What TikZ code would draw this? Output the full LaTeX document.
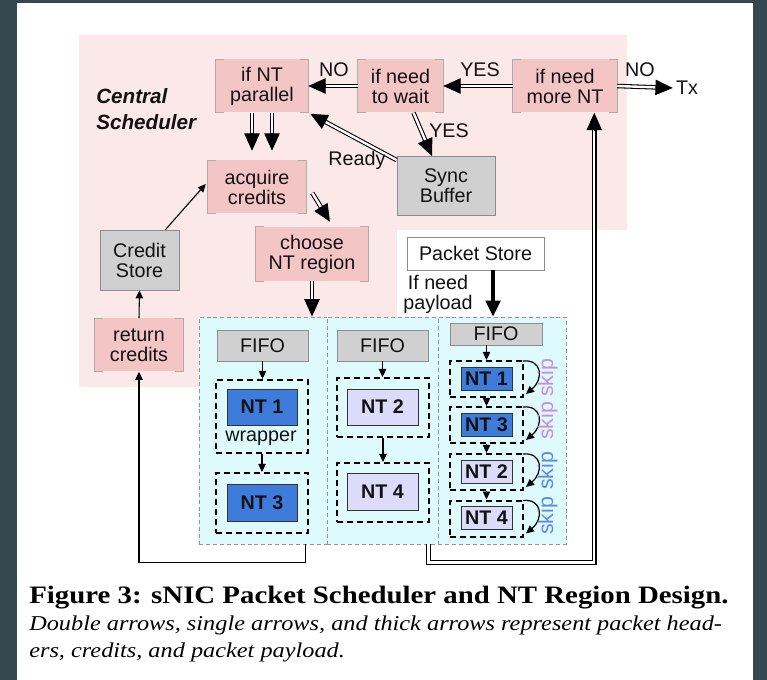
\documentclass[tikz,border=0pt]{standalone}
\usepackage{fontspec}
\setmainfont{Liberation Sans}
\newfontfamily\capfont[FakeStretch=1.15]{Liberation Serif}
\usetikzlibrary{arrows.meta,calc}

\definecolor{framebg}{RGB}{55,71,79}
\definecolor{schedbg}{RGB}{251,232,232}
\definecolor{pinkbox}{RGB}{244,197,197}
\definecolor{bracketgray}{RGB}{172,172,172}
\definecolor{grayfill}{RGB}{208,208,208}
\definecolor{grayline}{RGB}{140,140,140}
\definecolor{regionfill}{RGB}{222,250,252}
\definecolor{regionline}{RGB}{145,150,155}
\definecolor{ntblue}{RGB}{62,124,220}
\definecolor{ntlav}{RGB}{221,219,250}
\definecolor{skipviolet}{RGB}{200,140,225}
\definecolor{skipblue}{RGB}{90,140,228}

\tikzset{
  sz/.style 2 args={minimum width=#1*0.75pt, minimum height=#2*0.75pt},
  lbl/.style={font=\fontsize{14.8}{15}\selectfont, inner sep=0pt, align=center, text=black!93},
  decision/.style={lbl, fill=pinkbox},
  graybox/.style={lbl, fill=grayfill, draw=grayline, line width=0.6pt},
  region/.style={fill=regionfill, draw=regionline, dash pattern=on 3pt off 2.2pt, line width=0.7pt, inner sep=0pt},
  wrapbox/.style={draw=black, line width=1.5pt, dash pattern=on 4.5pt off 3pt, inner sep=0pt},
  ntbox/.style={lbl, font=\fontsize{14.8}{15}\selectfont\bfseries, draw=black!80, line width=0.6pt},
  dblline/.style={double=white, double distance=1.8pt, line width=0.8pt, shorten >=11pt},
  dblhead/.style={line width=0.8pt, -{Triangle[length=13pt,width=11.5pt]}},
  sgl/.style={line width=0.8pt, -{Triangle[length=6pt,width=5.5pt]}},
  fat/.style={line width=2.6pt, -{Triangle[length=12pt,width=11pt]}},
  skiparrow/.style={line width=0.9pt, -{Triangle[length=6pt,width=5.5pt]}},
  skiplbl/.style={lbl, font=\fontsize{16}{16}\selectfont, rotate=90},
}

% gray corner brackets on the pink decision boxes
\newcommand\brackets[1]{%
  \draw[bracketgray, line width=0.8pt] ($(#1.north west)+(8,0)$) -- (#1.north west) -- (#1.south west) -- ++(8,0);
  \draw[bracketgray, line width=0.8pt] ($(#1.north east)+(-8,0)$) -- (#1.north east) -- (#1.south east) -- ++(-8,0);
}

% double header arrow between two named coordinates, with a solid head
\newcommand\dblto[2]{%
  \draw[dblline] (#1) -- (#2);
  \draw[dblhead] ($(#2)!13pt!(#1)$) -- (#2);
}

% curved skip arrow along the right side of a wrapper
\newcommand\skiparc[1]{%
  \draw[skiparrow] ($(#1.north east)+(-1,1)$) .. controls ($(#1.north east)+(18,-1)$) and ($(#1.south east)+(20,-19)$) .. ($(#1.south east)+(2,-4)$);
}

\begin{document}
\begin{tikzpicture}[x=0.75pt, y=-0.75pt]
\useasboundingbox (0,0) rectangle (767,680);
\fill[framebg] (0,0) rectangle (767,680);
\fill[white] (17,3) rectangle (753,680);

% scheduler background
\fill[schedbg] (79,35) -- (627,35) -- (627,230) -- (397,230) -- (397,387) -- (79,387) -- cycle;
\node[lbl, font=\fontsize{15.5}{19}\selectfont\bfseries\itshape, align=left, anchor=west] (cs) at (96,109) {Central\\Scheduler};

% scheduler boxes
\node[decision, sz={92}{53}] (ifpar) at (262,86) {if NT\\parallel};
\node[decision, sz={85}{53}] (ifwait) at (400.5,86) {if need\\to wait};
\node[decision, sz={104}{53}] (ifmore) at (565,86) {if need\\more NT};
\node[lbl] (tx) at (687,88) {Tx};
\node[graybox, sz={98}{59}] (sync) at (446,186) {Sync\\Buffer};
\node[decision, sz={98}{53}] (acq) at (257,187) {acquire\\credits};
\node[decision, sz={112}{54}] (choose) at (312,254) {choose\\NT region};
\node[graybox, sz={79}{60}] (credit) at (139.5,260) {Credit\\Store};
\node[decision, sz={88}{53}] (ret) at (139,345) {return\\credits};
\brackets{ifpar}
\brackets{ifwait}
\brackets{ifmore}
\brackets{acq}
\brackets{choose}
\brackets{ret}

\node[lbl, fill=white, draw=grayline, line width=0.6pt, sz={137}{33}] (pstore) at (475.5,253.5) {Packet Store};
\node[lbl] (payload) at (438,294) {If need\\payload};

% NT regions
\node[region, sz={128}{227}] (r1) at (263,430.5) {};
\node[region, sz={111}{227}] (r2) at (382.5,430.5) {};
\node[region, sz={128}{227}] (r3) at (502,430.5) {};

\node[graybox, sz={91}{31}] (f1) at (262.5,345.5) {FIFO};
\node[graybox, sz={91}{31}] (f2) at (382.5,345.5) {FIFO};
\node[graybox, sz={92}{22}] (f3) at (496,334) {FIFO};

% region 1
\node[wrapbox, sz={92}{73}] (w1) at (262,416.5) {};
\node[ntbox, fill=ntblue, sz={70}{36}] (n1) at (262,407) {NT 1};
\node[lbl] (wraptxt) at (261,438) {wrapper};
\node[wrapbox, sz={92}{60}] (w3) at (262,503) {};
\node[ntbox, fill=ntblue, sz={70}{37}] (n3) at (262,502.5) {NT 3};

% region 2
\node[wrapbox, sz={92}{59}] (w2) at (383,407.5) {};
\node[ntbox, fill=ntlav, sz={71}{36}] (n2) at (382.5,407) {NT 2};
\node[wrapbox, sz={92}{59}] (w4) at (383,492.5) {};
\node[ntbox, fill=ntlav, sz={71}{37}] (n4) at (382.5,491.5) {NT 4};

% region 3
\node[wrapbox, sz={73}{36}] (q1) at (486.5,379) {};
\node[ntbox, fill=ntblue, sz={51}{23}] (m1) at (486.5,378.5) {NT 1};
\node[wrapbox, sz={73}{36}] (q3) at (486.5,425) {};
\node[ntbox, fill=ntblue, sz={51}{23}] (m3) at (486.5,424.5) {NT 3};
\node[wrapbox, sz={73}{36}] (q2) at (486.5,472) {};
\node[ntbox, fill=ntlav, sz={51}{23}] (m2) at (486.5,471.5) {NT 2};
\node[wrapbox, sz={73}{36}] (q4) at (486.5,518.5) {};
\node[ntbox, fill=ntlav, sz={51}{23}] (m4) at (486.5,518) {NT 4};

\skiparc{q1}
\skiparc{q3}
\skiparc{q2}
\skiparc{q4}
\node[skiplbl, text=skipviolet] (s1) at (547.5,378) {skip};
\node[skiplbl, text=skipviolet] (s2) at (547.5,421) {skip};
\node[skiplbl, text=skipblue] (s3) at (547.5,471) {skip};
\node[skiplbl, text=skipblue] (s4) at (547.5,516) {skip};

% credit arrows inside the regions
\draw[sgl] (f1.south) -- (f1.south |- w1.north);
\draw[sgl] (w1.south) -- (w3.north);
\draw[sgl] (f2.south) -- (f2.south |- w2.north);
\draw[sgl] (w2.south) -- (w4.north);
\draw[sgl] (f3.south -| q1.north) -- (q1.north);
\draw[sgl] (q1.south) -- (q3.north);
\draw[sgl] (q3.south) -- (q2.north);
\draw[sgl] (q2.south) -- (q4.north);

% header paths (double arrows)
\coordinate (noA) at (ifwait.west);   \coordinate (noB) at (ifpar.east);
\coordinate (yesA) at (ifmore.west);  \coordinate (yesB) at (ifwait.east);
\coordinate (txA) at (ifmore.east);   \coordinate (txB) at ($(tx.west)+(-3,0)$);
\coordinate (waitA) at ($(ifwait.south)+(13,0)$); \coordinate (waitB) at ($(sync.north)+(-14,0)$);
\coordinate (rdyA) at ($(sync.north west)+(0,4)$); \coordinate (rdyB) at ($(ifpar.south east)+(2,1)$);
\coordinate (parA) at ($(ifpar.south)+(-10,0)$); \coordinate (parB) at ($(ifpar.south)+(-10,38)$);
\coordinate (parC) at ($(ifpar.south)+(10,0)$);  \coordinate (parD) at ($(ifpar.south)+(10,38)$);
\coordinate (acqA) at ($(acq.east)+(6,6)$);      \coordinate (acqB) at ($(choose.north)+(18,-5)$);
\coordinate (chA) at (choose.south);             \coordinate (chB) at (choose.south |- r1.north);
\dblto{noA}{noB}
\dblto{yesA}{yesB}
\dblto{txA}{txB}
\dblto{waitA}{waitB}
\dblto{rdyA}{rdyB}
\dblto{parA}{parB}
\dblto{parC}{parD}
\dblto{acqA}{acqB}
\dblto{chA}{chB}
\node[lbl] (no1) at (334,70) {NO};
\node[lbl] (yes1) at (480,70) {YES};
\node[lbl] (no2) at (640,70) {NO};
\node[lbl] (yes2) at (449,131) {YES};
\node[lbl] (ready) at (357,160) {Ready};

% headers leaving the NT regions return to the scheduler
\coordinate (lp0) at ($(r2.south east)+(-10,0)$);
\coordinate (lp1) at ($(lp0)+(0,18)$);
\coordinate (lpe) at ($(ifmore.south east)+(-23,0)$);
\coordinate (lpc) at (lpe |- lp1);
\draw[dblline] (lp0) -- (lp1) -- (lpc) -- (lpe);
\draw[dblhead] ($(lpe)!13pt!(lpc)$) -- (lpe);

% credit paths (single arrows)
\draw[sgl] ($(r1.south east)+(-22,0)$) -- ++(0,18) -| (ret.south);
\draw[sgl] (ret.north) -- (credit.south);
\draw[sgl] ($(credit.north)+(26,0)$) -- ($(acq.west)+(-2,-3)$);

% payload path (thick arrow)
\coordinate (ps) at ($(pstore.south)+(17.5,0)$);
\draw[fat] (ps) -- (ps |- r3.north);

% caption
\node[anchor=base west, inner sep=0pt, font=\capfont\fontsize{18.8}{20}\selectfont\bfseries] (cap1) at (29,603) {Figure 3: sNIC Packet Scheduler and NT Region Design.};
\node[anchor=base west, inner sep=0pt, font=\capfont\fontsize{15.85}{18}\selectfont\itshape] (cap2) at (29,630) {Double arrows, single arrows, and thick arrows represent packet head-};
\node[anchor=base west, inner sep=0pt, font=\capfont\fontsize{15.85}{18}\selectfont\itshape] (cap3) at (29,657) {ers, credits, and packet payload.};
\end{tikzpicture}
\end{document}
